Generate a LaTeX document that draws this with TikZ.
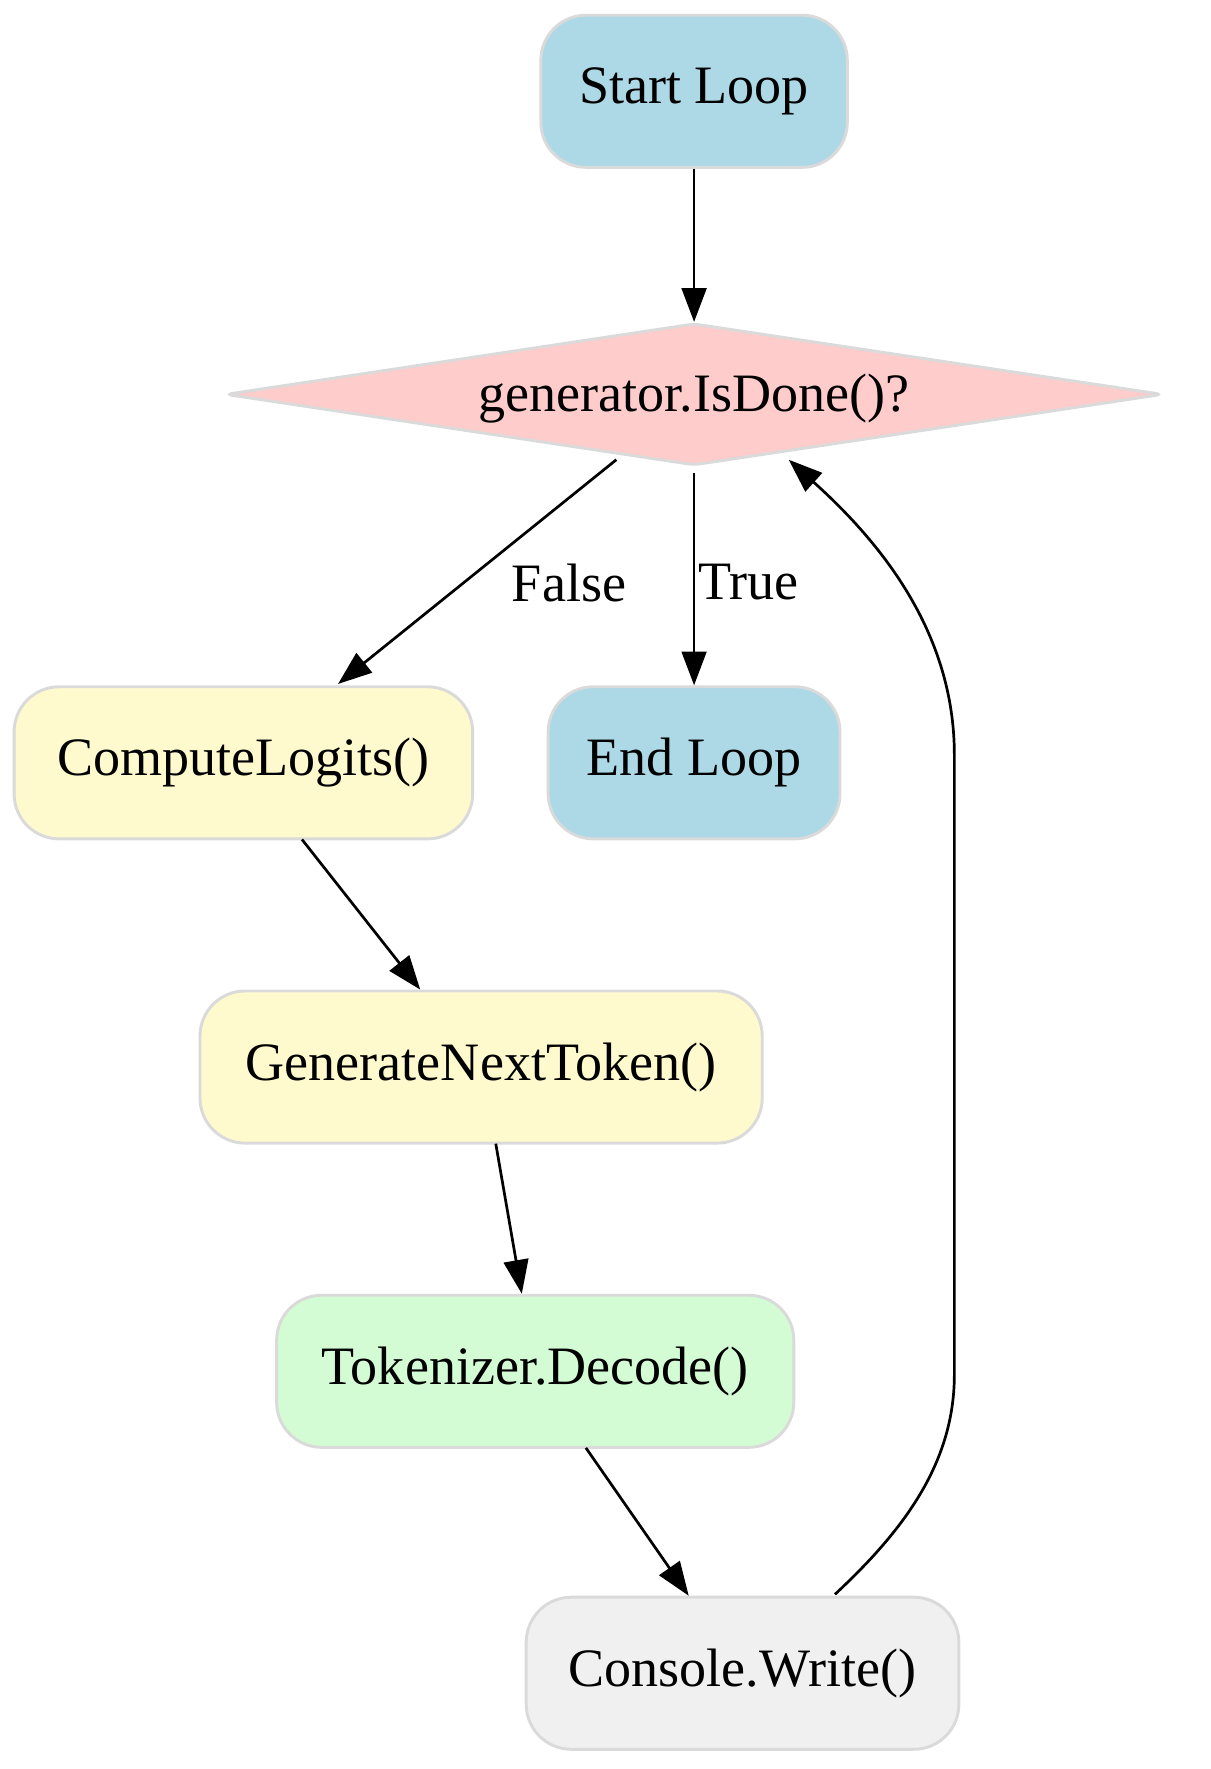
\documentclass[tikz,border=0pt]{standalone}
\usepackage{fontspec}
\setmainfont{Liberation Serif}
\usetikzlibrary{shapes.geometric,arrows.meta}
\definecolor{lblue}{HTML}{ADD8E6}
\definecolor{lpink}{HTML}{FFCCCC}
\definecolor{lyel}{HTML}{FFFACD}
\definecolor{lgreen}{HTML}{D4FCD4}
\definecolor{lgray}{HTML}{F0F0F0}
\definecolor{bord}{HTML}{DADADA}
\begin{document}
\begin{tikzpicture}[x=0.5pt,y=-0.5pt,
  box/.style={draw=bord,line width=1.3pt,rounded corners=20pt,font=\fontsize{24}{28}\selectfont,inner sep=0pt,minimum height=67.5pt},
  edge/.style={line width=1.2pt,-{Triangle[length=15pt,width=11pt]}},
  lbl/.style={font=\fontsize{24}{28}\selectfont}]
\useasboundingbox (0,0) rectangle (1074,1570);
\node[box,fill=lblue,minimum width=136pt] (start) at (616,81) {Start Loop};
\node[draw=bord,fill=lpink,line width=1.3pt,diamond,aspect=6.6,minimum width=416pt,minimum height=63pt,inner sep=0pt,rounded corners=3pt,font=\fontsize{24}{28}\selectfont] (dec) at (616,350) {};
\node[font=\fontsize{24}{28}\selectfont] (dect) at (616,354) {generator.IsDone()?};
\node[box,fill=lyel,minimum width=203.5pt] (comp) at (216,677) {ComputeLogits()};
\node[box,fill=lblue,minimum width=129.5pt] (endl) at (616,677) {End Loop};
\node[box,fill=lyel,minimum width=249.5pt] (gen) at (427,947) {GenerateNextToken()};
\node[box,fill=lgreen,minimum width=229.5pt] (tok) at (475,1217) {Tokenizer.Decode()};
\node[box,fill=lgray,minimum width=192pt] (con) at (659,1485) {Console.Write()};
\coordinate (p1) at (547,408);
\coordinate (p2) at (616,420);
\coordinate (p3) at (741,1415);
\coordinate (p4) at (700,408);
\draw[edge] (start) -- (dec);
\draw[edge] (p1) -- (300,607) coordinate (q1);
\node[lbl] (fl) at (505,517) {False};
\draw[edge] (p2) -- (endl);
\node[lbl] (tl) at (664,517) {True};
\draw[edge] (268,745) -- (gen);
\draw[edge] (440,1015) -- (tok);
\draw[edge] (520,1285) -- (con);
\draw[line width=1.2pt,-{Triangle[length=15pt,width=11pt]}] (p3) .. controls (800,1360) and (847,1300) .. (847,1220) -- (847,670) .. controls (847,560) and (780,480) .. (p4);
\end{tikzpicture}
\end{document}
